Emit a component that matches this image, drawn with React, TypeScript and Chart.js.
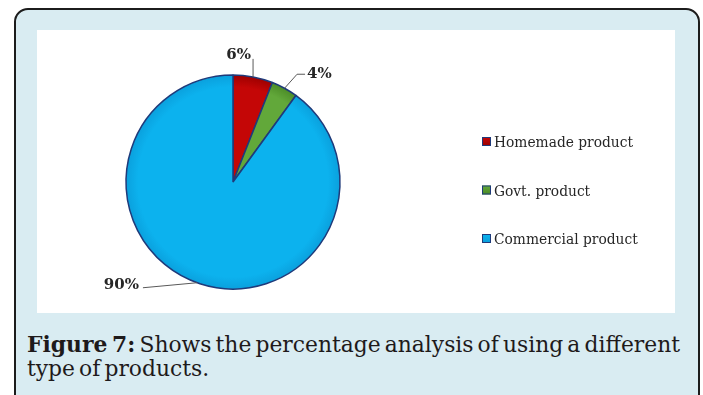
import React, { useEffect, useRef } from "react";
import { Chart, registerables } from "chart.js";

Chart.register(...registerables);

const categories = ["Homemade product", "Govt. product", "Commercial product"];
const percentages = [6, 4, 90];
const sliceColors = ["#c40606", "#62a83a", "#0cb2ee"];
const sliceEdgeColors = ["#9a0000", "#4a8a26", "#0a9fdc"];
const captionBold = "Figure 7:";
const captionLine1 = " Shows the percentage analysis of using a different";
const captionLine2 = "type of products.";

// style / layout constants (not data)
const BORDER_NAVY = "#1f3a7a";
const SERIF = "'DejaVu Serif', serif";
const leaderLayout = [
  { pts: [[0, 0], [0, -18]], text: [-2, -18], align: "right" },
  { pts: [[0, 0], [12.5, -14], [20.5, -14]], text: [22.5, -10], align: "left" },
  { pts: [[-3, -1], [-57, 4]], text: [-61, 5], align: "right" },
];
const legendX = 445;
const legendTopY = 111.5;
const legendGap = 48.5;
const legendRefWidth = 139;
const captionWidth = 653;

const labelPlugin = {
  id: "leaderLabels",
  afterDatasetsDraw(chart: any) {
    const ctx = chart.ctx;
    const meta = chart.getDatasetMeta(0);
    const values = chart.data.datasets[0].data as number[];
    meta.data.forEach((arc: any, i: number) => {
      const { x, y, startAngle, endAngle, outerRadius } = arc.getProps(
        ["x", "y", "startAngle", "endAngle", "outerRadius"],
        true
      );
      const mid = (startAngle + endAngle) / 2;
      const ax = x + Math.cos(mid) * outerRadius;
      const ay = y + Math.sin(mid) * outerRadius;
      const lay = leaderLayout[i];
      ctx.save();
      ctx.strokeStyle = "#595959";
      ctx.lineWidth = 1;
      ctx.beginPath();
      lay.pts.forEach((p, k) => {
        if (k === 0) ctx.moveTo(ax + p[0], ay + p[1]);
        else ctx.lineTo(ax + p[0], ay + p[1]);
      });
      ctx.stroke();
      ctx.fillStyle = "#262626";
      ctx.font = `bold 15px ${SERIF}`;
      ctx.textAlign = lay.align as CanvasTextAlign;
      ctx.textBaseline = "alphabetic";
      ctx.fillText(`${values[i]}%`, ax + lay.text[0], ay + lay.text[1]);
      ctx.restore();
    });
  },
};

const legendPlugin = {
  id: "customLegend",
  afterDraw(chart: any) {
    const ctx = chart.ctx;
    const labels = chart.data.labels as string[];
    ctx.save();
    ctx.font = `15px ${SERIF}`;
    const s = legendRefWidth / ctx.measureText(labels[0]).width;
    ctx.restore();
    labels.forEach((label, i) => {
      const cy = legendTopY + i * legendGap;
      ctx.save();
      const g = ctx.createLinearGradient(legendX, cy - 4, legendX, cy + 4);
      g.addColorStop(0, sliceColors[i]);
      g.addColorStop(1, sliceEdgeColors[i]);
      ctx.fillStyle = g;
      ctx.fillRect(legendX, cy - 4.5, 9, 9);
      ctx.strokeStyle = BORDER_NAVY;
      ctx.lineWidth = 1;
      ctx.strokeRect(legendX + 0.5, cy - 4, 8, 8);
      ctx.fillStyle = "#262626";
      ctx.font = `15px ${SERIF}`;
      ctx.textAlign = "left";
      ctx.textBaseline = "alphabetic";
      ctx.translate(legendX + 12, cy + 5.5);
      ctx.scale(s, 1);
      ctx.fillText(label, 0, 0);
      ctx.restore();
    });
  },
};

export default function App() {
  const canvasRef = useRef<HTMLCanvasElement>(null);
  const capRef = useRef<HTMLDivElement>(null);
  const line1Ref = useRef<HTMLSpanElement>(null);

  useEffect(() => {
    document.body.style.margin = "0";
    const canvas = canvasRef.current!;
    const chart = new Chart(canvas, {
      type: "pie",
      data: {
        labels: categories,
        datasets: [
          {
            data: percentages,
            backgroundColor: (c: any) => {
              const ch = c.chart;
              const area = ch.chartArea;
              const i = c.dataIndex;
              if (!area || i === undefined) return sliceColors[i ?? 0];
              const cx = (area.left + area.right) / 2;
              const cy = (area.top + area.bottom) / 2;
              const g = ch.ctx.createRadialGradient(cx, cy, 0, cx, cy, 108);
              g.addColorStop(0, sliceColors[i]);
              g.addColorStop(0.88, sliceColors[i]);
              g.addColorStop(1, sliceEdgeColors[i]);
              return g;
            },
            borderColor: BORDER_NAVY,
            borderWidth: 1.5,
          },
        ],
      },
      options: {
        responsive: false,
        animation: false,
        devicePixelRatio: 1,
        radius: 107,
        layout: { padding: { left: 0, right: 246, top: 21, bottom: 0 } },
        plugins: {
          legend: { display: false },
          tooltip: { enabled: false },
        },
      } as any,
      plugins: [labelPlugin, legendPlugin],
    });

    // fit caption width to target
    const cap = capRef.current;
    const l1 = line1Ref.current;
    if (cap && l1) {
      const w = l1.getBoundingClientRect().width;
      if (w > 0) cap.style.transform = `scaleX(${captionWidth / w})`;
    }
    return () => chart.destroy();
  }, []);

  return (
    <div
      style={{
        position: "fixed",
        left: 0,
        top: 0,
        width: 703,
        height: 395,
        overflow: "hidden",
        background: "#ffffff",
      }}
    >
      <div
        style={{
          position: "absolute",
          left: 14,
          top: 8,
          width: 686,
          height: 420,
          boxSizing: "border-box",
          border: "2px solid #1c1c1c",
          borderRadius: 14,
          background: "#d9ecf2",
        }}
      />
      <div
        style={{
          position: "absolute",
          left: 37,
          top: 30,
          width: 638,
          height: 283,
          background: "#ffffff",
        }}
      >
        <canvas ref={canvasRef} width={638} height={283} style={{ width: 638, height: 283, display: "block" }} />
      </div>
      <div
        ref={capRef}
        style={{
          position: "absolute",
          left: 27,
          top: 332,
          fontFamily: SERIF,
          fontSize: 23,
          lineHeight: "24px",
          color: "#1e1a1b",
          whiteSpace: "nowrap",
          wordSpacing: "-3px",
          transformOrigin: "0 0",
        }}
      >
        <div style={{ height: 24 }}>
          <span ref={line1Ref}>
            <b>{captionBold}</b>
            {captionLine1}
          </span>
        </div>
        <div style={{ height: 24 }}>{captionLine2}</div>
      </div>
    </div>
  );
}
